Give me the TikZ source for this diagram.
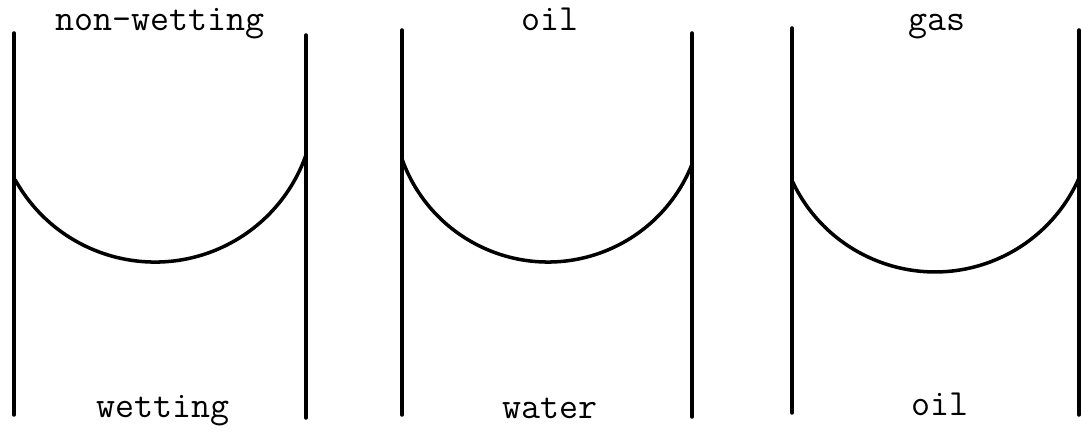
\documentclass[tikz,border=0pt]{standalone}
\usepackage{tikz}
\usetikzlibrary{positioning}

\begin{document}
\begin{tikzpicture}[
  wall/.style={line width=2pt,line cap=round},
  men/.style={line width=2pt},
  lbl/.style={font=\fontsize{21}{25}\selectfont\ttfamily,anchor=base,inner sep=0pt}]
\useasboundingbox (0,0) rectangle (21.62,8.64);
% tube 1
\draw[wall] (0.28,7.98) -- (0.28,0.34);
\draw[wall] (6.12,7.94) -- (6.12,0.28);
\draw[men] (0.30,5.05) arc[start angle=208.95,end angle=340.7,radius=3.2];
\node[lbl] (nw) at (3.20,8.02) {non-wetting};
\node[lbl] (w) at (3.26,0.28) {wetting};
% tube 2
\draw[wall] (8.04,8.04) -- (8.04,0.34);
\draw[wall] (13.84,7.98) -- (13.84,0.30);
\draw[men] (8.04,5.46) arc[start angle=199.6,end angle=338.2,radius=3.1];
\node[lbl] (oila) at (11.0,8.02) {oil};
\node[lbl] (wat) at (11.0,0.26) {water};
% tube 3
\draw[wall] (15.84,8.08) -- (15.84,0.38);
\draw[wall] (21.58,8.04) -- (21.58,0.34);
\draw[men] (15.84,5.03) arc[start angle=204.8,end angle=336.1,radius=3.15];
\node[lbl] (gas) at (18.74,8.02) {gas};
\node[lbl] (oilb) at (18.80,0.32) {oil};
\end{tikzpicture}
\end{document}
